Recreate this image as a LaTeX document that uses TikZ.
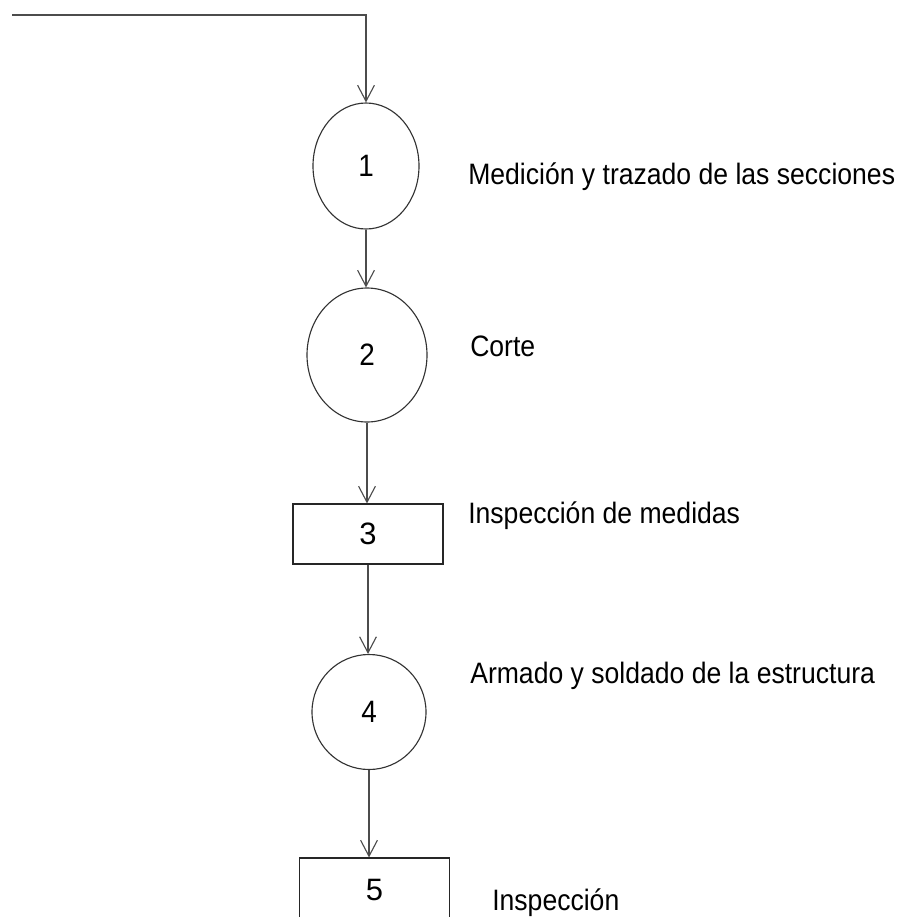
\documentclass[tikz,border=0pt]{standalone}
\usepackage{fontspec}
\setmainfont{Liberation Sans}
\newfontfamily\narrowfont[FakeStretch=0.9]{Liberation Sans}
\usetikzlibrary{shapes.geometric,arrows.meta}
\begin{document}
\begin{tikzpicture}[x=0.25mm,y=-0.25mm,
        etapa/.style={draw=black!80,line width=0.8pt,ellipse,inner sep=0pt,
            font=\narrowfont\fontsize{22}{26}\selectfont},
        caja/.style={draw=black!85,line width=0.8pt,rectangle,inner sep=0pt,
            minimum width=37.5mm,font=\fontsize{22}{26}\selectfont},
        texto/.style={anchor=west,inner sep=0pt,
            font=\narrowfont\fontsize{21}{25}\selectfont},
        flecha/.style={draw=black!70,line width=0.8pt,
            -{Straight Barb[length=4mm,width=4.2mm]}}]
        \useasboundingbox (0,0) rectangle (902,917);
        \node[etapa,minimum width=26.5mm,minimum height=31.5mm] (e1) at (366,166) {1};
        \node[etapa,minimum width=30mm,minimum height=33.5mm] (e2) at (367,355) {2};
        \node[caja,minimum height=15mm] (e3) at (368,534) {3};
        \node[etapa,minimum width=28.5mm,minimum height=28.75mm] (e4) at (369,712) {4};
        \node[caja,minimum height=15.75mm] (e5) at (374.5,889.5) {5};
        \node[texto] (t1) at (468,177) {Medición y trazado de las secciones};
        \node[texto] (t2) at (470,346) {Corte};
        \node[texto] (t3) at (468,516) {Inspección de medidas};
        \node[texto] (t4) at (470,676) {Armado y soldado de la estructura};
        \node[texto] (t5) at (492,903) {Inspección};
        \coordinate (inicio) at (12,15);
        \coordinate (codo) at (e1.north |- inicio);
        \draw [flecha] (inicio) -- (codo) -- (e1.north);
        \draw [flecha] (e1.south) -- (e1.south |- e2.north);
        \draw [flecha] (e2.south) -- (e2.south |- e3.north);
        \draw [flecha] (e3.south) -- (e3.south |- e4.north);
        \draw [flecha] (e4.south) -- (e4.south |- e5.north);
    \end{tikzpicture}
\end{document}
